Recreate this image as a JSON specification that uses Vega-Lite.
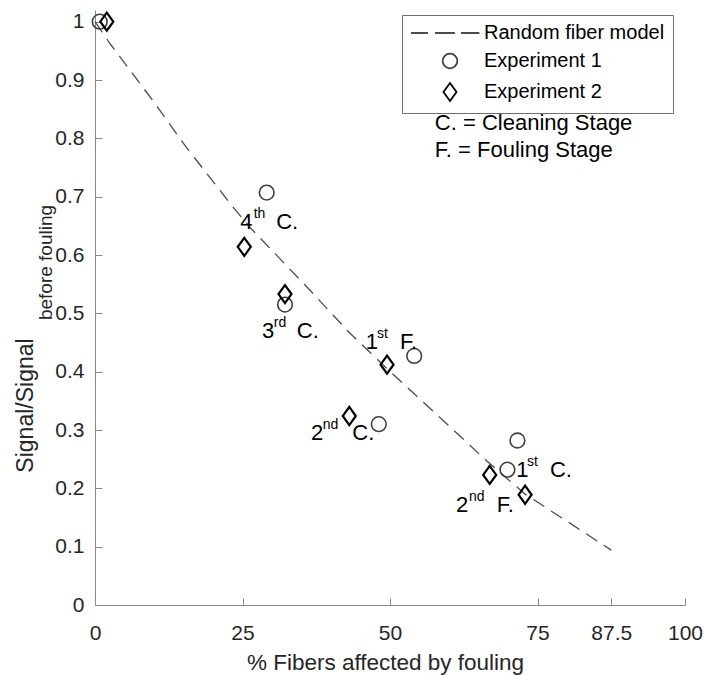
{
  "$schema": "https://vega.github.io/schema/vega-lite/v6.json",
  "width": 590,
  "height": 595,
  "autosize": {"type": "none"},
  "padding": {"left": 95, "top": 10, "right": 19, "bottom": 70},
  "background": "white",
  "config": {
    "view": {"stroke": null},
    "font": "Liberation Sans",
    "axis": {
      "grid": false,
      "domainColor": "#8a8a8a",
      "tickColor": "#8a8a8a",
      "labelColor": "#262626",
      "titleColor": "#262626",
      "labelFont": "Liberation Sans",
      "titleFont": "Liberation Sans",
      "labelFontSize": 21,
      "titleFontSize": 22.5,
      "titleFontWeight": "normal",
      "labelFlush": false,
      "labelOverlap": false
    },
    "legend": {
      "labelFont": "Liberation Sans",
      "labelFontSize": 20,
      "labelColor": "#000000",
      "labelLimit": 400
    }
  },
  "datasets": {
    "points": [
      {"series": "Random fiber model", "x": 0, "y": 1.0},
      {"series": "Random fiber model", "x": 2.5, "y": 0.963},
      {"series": "Random fiber model", "x": 10, "y": 0.862},
      {"series": "Random fiber model", "x": 15.3, "y": 0.787},
      {"series": "Random fiber model", "x": 23.4, "y": 0.682},
      {"series": "Random fiber model", "x": 26.3, "y": 0.647},
      {"series": "Random fiber model", "x": 36.4, "y": 0.54},
      {"series": "Random fiber model", "x": 43, "y": 0.468},
      {"series": "Random fiber model", "x": 49.5, "y": 0.405},
      {"series": "Random fiber model", "x": 57, "y": 0.335},
      {"series": "Random fiber model", "x": 66.4, "y": 0.247},
      {"series": "Random fiber model", "x": 72.9, "y": 0.19},
      {"series": "Random fiber model", "x": 81, "y": 0.137},
      {"series": "Random fiber model", "x": 87.5, "y": 0.094},
      {"series": "Experiment 1", "x": 0.8, "y": 1.0},
      {"series": "Experiment 1", "x": 29.1, "y": 0.707},
      {"series": "Experiment 1", "x": 32.2, "y": 0.515},
      {"series": "Experiment 1", "x": 54.1, "y": 0.427},
      {"series": "Experiment 1", "x": 48.1, "y": 0.31},
      {"series": "Experiment 1", "x": 71.6, "y": 0.282},
      {"series": "Experiment 1", "x": 69.9, "y": 0.232},
      {"series": "Experiment 2", "x": 2.0, "y": 1.0},
      {"series": "Experiment 2", "x": 25.3, "y": 0.614},
      {"series": "Experiment 2", "x": 32.2, "y": 0.533},
      {"series": "Experiment 2", "x": 49.5, "y": 0.412},
      {"series": "Experiment 2", "x": 43.1, "y": 0.324},
      {"series": "Experiment 2", "x": 66.9, "y": 0.223},
      {"series": "Experiment 2", "x": 72.9, "y": 0.189}
    ],
    "labels": [
      {"part": "base", "text": "4", "x": 24.6, "y": 0.645},
      {"part": "sup", "text": "th", "x": 26.9, "y": 0.645},
      {"part": "base", "text": "C.", "x": 30.7, "y": 0.645},
      {"part": "base", "text": "3", "x": 28.3, "y": 0.458},
      {"part": "sup", "text": "rd", "x": 30.3, "y": 0.458},
      {"part": "base", "text": "C.", "x": 34.2, "y": 0.458},
      {"part": "base", "text": "1", "x": 45.9, "y": 0.439},
      {"part": "sup", "text": "st", "x": 47.8, "y": 0.439},
      {"part": "base", "text": "F.", "x": 51.7, "y": 0.439},
      {"part": "base", "text": "2", "x": 36.6, "y": 0.283},
      {"part": "sup", "text": "nd", "x": 38.6, "y": 0.283},
      {"part": "base", "text": "C.", "x": 43.6, "y": 0.283},
      {"part": "base", "text": "1", "x": 71.4, "y": 0.22},
      {"part": "sup", "text": "st", "x": 73.2, "y": 0.22},
      {"part": "base", "text": "C.", "x": 77.1, "y": 0.22},
      {"part": "base", "text": "2", "x": 61.2, "y": 0.16},
      {"part": "sup", "text": "nd", "x": 63.4, "y": 0.16},
      {"part": "base", "text": "F.", "x": 68.1, "y": 0.16}
    ],
    "notes": [
      {"text": "C. = Cleaning Stage", "x": 57.6, "y": 0.815},
      {"text": "F. = Fouling Stage", "x": 57.6, "y": 0.768}
    ]
  },
  "encoding": {
    "x": {
      "field": "x",
      "type": "quantitative",
      "scale": {"domain": [0, 100], "nice": false, "zero": false},
      "axis": {
        "values": [0, 25, 50, 75, 87.5, 100],
        "format": ".1~f",
        "tickSize": -7,
        "labelPadding": 24,
        "title": "% Fibers affected by fouling",
        "titleX": 290,
        "titleY": 57,
        "titleBaseline": "middle"
      }
    }
  },
  "layer": [
    {
      "encoding": {
        "y": {
          "field": "y",
          "type": "quantitative",
          "scale": {"domain": [0, 1.02], "nice": false, "zero": false},
          "axis": {
            "values": [0, 0.1, 0.2, 0.3, 0.4, 0.5, 0.6, 0.7, 0.8, 0.9, 1],
            "format": ".1~f",
            "tickSize": -7,
            "labelPadding": 18,
            "title": "Signal/Signal",
            "titleFontSize": 23,
            "titleAngle": 270,
            "titleX": -70,
            "titleY": 395,
            "titleAlign": "center",
            "titleBaseline": "middle"
          }
        }
      },
      "layer": [
        {
          "data": {"name": "points"},
          "transform": [{"filter": "datum.series === 'Random fiber model'"}],
          "mark": {"type": "line", "strokeDash": [13, 8], "strokeWidth": 1.3},
          "encoding": {
            "order": {"field": "x", "type": "quantitative"},
            "stroke": {
              "field": "series",
              "type": "nominal",
              "scale": {
                "domain": ["Random fiber model", "Experiment 1", "Experiment 2"],
                "range": ["#4d4d4d", "#404040", "#000000"]
              },
              "legend": {
                "title": null,
                "orient": "none",
                "legendX": 307,
                "legendY": 5,
                "strokeColor": "#6e6e6e",
                "fillColor": "#ffffff",
                "padding": 8,
                "rowPadding": 7,
                "symbolSize": 196,
                "symbolStrokeWidth": 1.8,
                "symbolOffset": 30,
                "labelOffset": 24,
                "symbolFillColor": "transparent",
                "encode": {"symbols": {"update": {"fill": {"value": "transparent"}}}}
              }
            }
          }
        },
        {
          "data": {"name": "points"},
          "transform": [{"filter": "datum.series === 'Experiment 1'"}],
          "mark": {"type": "point", "filled": false, "size": 196, "strokeWidth": 1.6, "opacity": 1},
          "encoding": {
            "stroke": {"field": "series", "type": "nominal"},
            "shape": {
              "field": "series",
              "type": "nominal",
              "scale": {
                "domain": ["Random fiber model", "Experiment 1", "Experiment 2"],
                "range": [
                  "M-5.57,0L-3.14,0M-2.14,0L0.71,0M1.57,0L4.2,0",
                  "M1.05,0A1.05,1.05,0,1,1,-1.05,0A1.05,1.05,0,1,1,1.05,0Z",
                  "M0,-1.29L0.93,0L0,1.29L-0.93,0Z"
                ]
              }
            }
          }
        },
        {
          "data": {"name": "points"},
          "transform": [{"filter": "datum.series === 'Experiment 2'"}],
          "mark": {"type": "point", "filled": false, "size": 196, "strokeWidth": 2.2, "opacity": 1},
          "encoding": {
            "stroke": {"field": "series", "type": "nominal"},
            "shape": {"field": "series", "type": "nominal"}
          }
        },
        {
          "data": {"name": "labels"},
          "transform": [{"filter": "datum.part === 'base'"}],
          "mark": {"type": "text", "align": "left", "baseline": "alphabetic", "fontSize": 22, "color": "#000000"},
          "encoding": {"text": {"field": "text"}}
        },
        {
          "data": {"name": "labels"},
          "transform": [{"filter": "datum.part === 'sup'"}],
          "mark": {"type": "text", "align": "left", "baseline": "alphabetic", "fontSize": 14, "dy": -11, "color": "#000000"},
          "encoding": {"text": {"field": "text"}}
        }
      ]
    },
    {
      "data": {"name": "notes"},
      "mark": {"type": "text", "align": "left", "baseline": "alphabetic", "fontSize": 22, "color": "#000000"},
      "encoding": {
        "text": {"field": "text"},
        "y": {
          "field": "y",
          "type": "quantitative",
          "scale": {"domain": [0, 1.02], "nice": false, "zero": false},
          "axis": {
            "orient": "left",
            "labels": false,
            "ticks": false,
            "domain": false,
            "title": "before fouling",
            "titleFontSize": 19,
            "titleAngle": 270,
            "titleX": -50,
            "titleY": 252,
            "titleAlign": "center",
            "titleBaseline": "middle"
          }
        }
      }
    }
  ],
  "resolve": {"scale": {"y": "independent"}}
}
